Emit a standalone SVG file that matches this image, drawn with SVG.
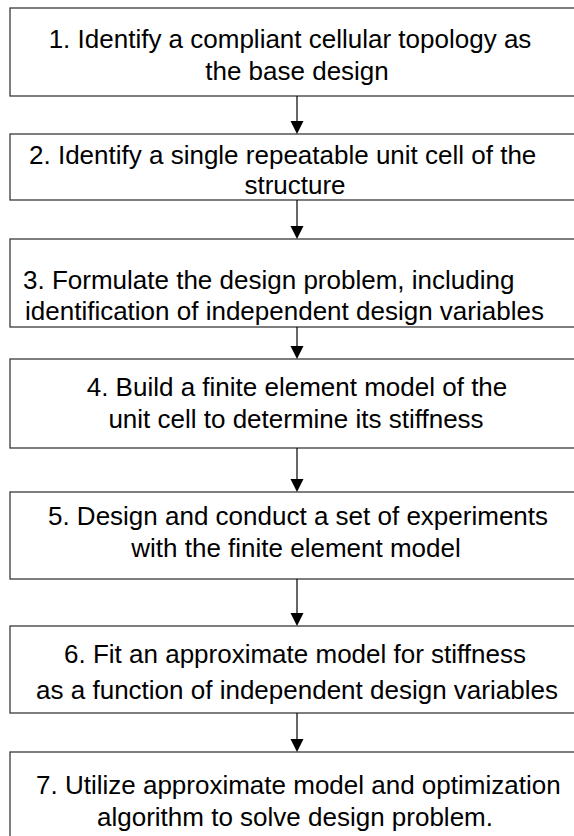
<svg xmlns="http://www.w3.org/2000/svg" width="574" height="836" viewBox="0 0 574 836">
<defs>
<style>
.box{fill:#fff;stroke:#3a3a3a;stroke-width:1.3}
.t{font-family:"Liberation Sans",Arial,sans-serif;font-size:26px;fill:#000}
.m{text-anchor:middle}
.c{stroke:#000;stroke-width:1.2;fill:none}
.ah{fill:#000}
</style>
</defs>
<rect width="574" height="836" fill="#fff"/>
<g id="node1">
<rect class="box" x="10" y="8" width="580" height="88"/>
<text class="t m" x="290" y="48">1. Identify a compliant cellular topology as</text>
<text class="t m" x="297" y="80">the base design</text>
</g>
<g id="node2">
<rect class="box" x="10" y="134" width="580" height="66"/>
<text class="t" x="29" y="164">2. Identify a single repeatable unit cell of the</text>
<text class="t m" x="295" y="194">structure</text>
</g>
<g id="node3">
<rect class="box" x="10" y="239" width="580" height="88"/>
<text class="t" x="23" y="289">3. Formulate the design problem, including</text>
<text class="t" x="25" y="320">identification of independent design variables</text>
</g>
<g id="node4">
<rect class="box" x="10" y="359" width="580" height="89"/>
<text class="t m" x="297" y="396">4. Build a finite element model of the</text>
<text class="t m" x="296" y="428">unit cell to determine its stiffness</text>
</g>
<g id="node5">
<rect class="box" x="10" y="492" width="580" height="87"/>
<text class="t m" x="298" y="525">5. Design and conduct a set of experiments</text>
<text class="t m" x="296" y="557">with the finite element model</text>
</g>
<g id="node6">
<rect class="box" x="10" y="626" width="580" height="87"/>
<text class="t m" x="295" y="663">6. Fit an approximate model for stiffness</text>
<text class="t m" x="297" y="699">as a function of independent design variables</text>
</g>
<g id="node7">
<rect class="box" x="10" y="752" width="580" height="100"/>
<text class="t" x="36" y="794">7. Utilize approximate model and optimization</text>
<text class="t m" x="295" y="826">algorithm to solve design problem.</text>
</g>
<g id="connectors">
<line class="c" x1="297" y1="96" x2="297" y2="122"/>
<polygon class="ah" points="290.5,121 303.5,121 297,134"/>
<line class="c" x1="297" y1="200" x2="297" y2="227"/>
<polygon class="ah" points="290.5,226 303.5,226 297,239"/>
<line class="c" x1="297" y1="327" x2="297" y2="347"/>
<polygon class="ah" points="290.5,346 303.5,346 297,359"/>
<line class="c" x1="297" y1="448" x2="297" y2="480"/>
<polygon class="ah" points="290.5,479 303.5,479 297,492"/>
<line class="c" x1="297" y1="579" x2="297" y2="614"/>
<polygon class="ah" points="290.5,613 303.5,613 297,626"/>
<line class="c" x1="297" y1="713" x2="297" y2="740"/>
<polygon class="ah" points="290.5,739 303.5,739 297,752"/>
</g>
</svg>
